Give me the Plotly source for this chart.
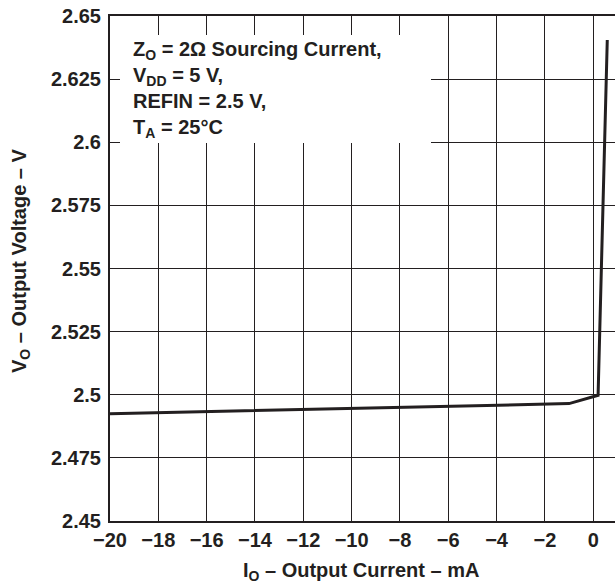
import plotly.graph_objects as go

# data
current_mA = [-20, -1, 0.2, 0.58]
voltage_V = [2.4925, 2.4965, 2.4998, 2.6405]

x_ticks = [-20, -18, -16, -14, -12, -10, -8, -6, -4, -2, 0]
x_ticktext = ["\u221220", "\u221218", "\u221216", "\u221214", "\u221212", "\u221210",
              "\u22128", "\u22126", "\u22124", "\u22122", "0"]
y_ticks = [2.45, 2.475, 2.5, 2.525, 2.55, 2.575, 2.6, 2.625, 2.65]
y_ticktext = ["2.45", "2.475", "2.5", "2.525", "2.55", "2.575", "2.6", "2.625", "2.65"]

ink = "#231f20"
font_family = "Liberation Sans, Arial, sans-serif"
FS = 20

W, H = 615, 587
L, T, B = 110, 16, 66
PW, PH = W - L, H - T - B  # 505 x 505


def px_x(x):
    return (x - L) / PW


def px_y(y):
    return (H - B - y) / PH


fig = go.Figure()
fig.add_trace(go.Scatter(x=current_mA, y=voltage_V, mode="lines",
                         line=dict(color=ink, width=3), hoverinfo="skip"))

tickfont = dict(size=FS, family=font_family, color=ink, weight="bold")
fig.update_layout(
    width=W, height=H,
    margin=dict(l=L, r=0, t=T, b=B),
    paper_bgcolor="white", plot_bgcolor="white",
    showlegend=False,
    font=dict(family=font_family, color=ink, size=FS),
    xaxis=dict(range=[-20, 0.9], tickvals=x_ticks, ticktext=x_ticktext,
               showgrid=True, gridcolor=ink, gridwidth=1,
               showline=True, linecolor=ink, linewidth=2, mirror=True,
               ticks="", zeroline=False, tickfont=tickfont),
    yaxis=dict(range=[2.45, 2.65], tickvals=y_ticks, ticktext=y_ticktext,
               showgrid=True, gridcolor=ink, gridwidth=1,
               showline=True, linecolor=ink, linewidth=2, mirror=False,
               ticks="", zeroline=False, tickfont=tickfont,
               ticklabelstandoff=3),
)

# axis titles
fig.add_annotation(xref="paper", yref="paper", x=px_x(361), y=px_y(571),
                   xanchor="center", yanchor="middle", showarrow=False,
                   text="<b>I<sub>O</sub> \u2013 Output Current \u2013 mA</b>",
                   font=dict(size=FS, family=font_family, color=ink))
fig.add_annotation(xref="paper", yref="paper", x=px_x(20), y=px_y(261),
                   xanchor="center", yanchor="middle", showarrow=False, textangle=-90,
                   text="<b>V<sub>O</sub> \u2013 Output Voltage \u2013 V</b>",
                   font=dict(size=FS, family=font_family, color=ink))

# white box behind the conditions text
fig.add_shape(type="rect", xref="paper", yref="paper",
              x0=px_x(120), x1=px_x(431), y0=px_y(143), y1=px_y(35),
              fillcolor="white", line=dict(width=0), layer="above")

fig.add_annotation(
    xref="paper", yref="paper", x=px_x(131), y=px_y(36),
    xanchor="left", yanchor="top", align="left", showarrow=False,
    text=("<b>Z<sub>O</sub> = 2\u03a9 Sourcing Current,<br>"
          "V<sub>DD</sub> = 5 V,<br>"
          "REFIN = 2.5 V,<br>"
          "T<sub>A</sub> = 25\u00b0C</b>"),
    font=dict(size=FS, family=font_family, color=ink),
)

fig.write_html("out.html", config={"displayModeBar": False},
               post_script="document.body.style.margin='0';")
